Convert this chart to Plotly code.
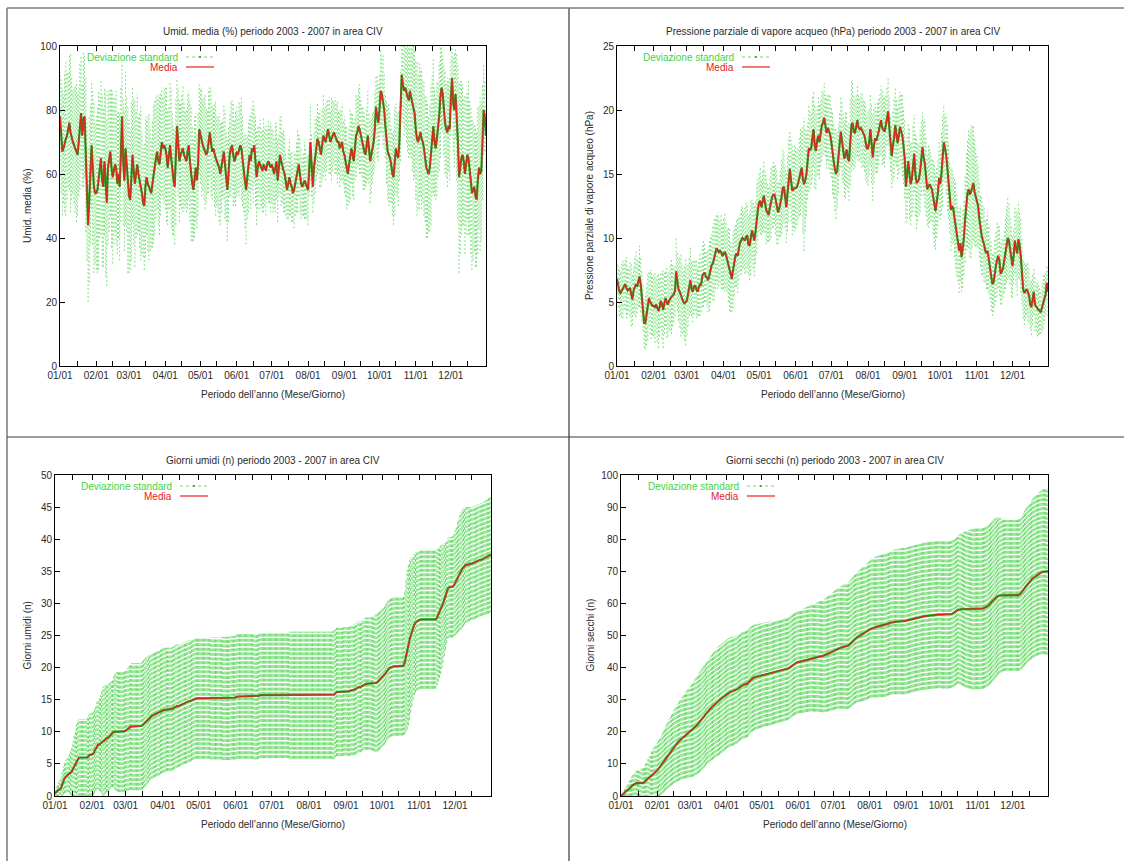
import plotly.graph_objects as go

W, H = 1124, 861

# ---------------- data ----------------
giorni = list(range(1, 366))
mesi_tick = [1, 32, 60, 91, 121, 152, 182, 213, 244, 274, 305, 335]
mesi_label = ["01/01", "02/01", "03/01", "04/01", "05/01", "06/01",
              "07/01", "08/01", "09/01", "10/01", "11/01", "12/01"]
meta_mese = [16, 46, 74, 105, 135, 166, 196, 227, 258, 288, 319, 349]

umid_media = (
    [78, 72, 67, 68, 70, 71, 72, 74, 76, 73, 71, 70, 69, 68, 67, 66, 70, 75, 79, 72, 77, 78, 66, 55, 44, 52, 60, 69, 62, 56, 54]
    + [54, 55, 58, 62, 65, 58, 56, 64, 57, 51, 62, 64, 67, 62, 59, 61, 63, 62, 57, 60, 56, 66, 78, 64, 58, 68, 63, 55]
    + [53, 52, 58, 66, 61, 57, 60, 63, 60, 58, 57, 54, 51, 50, 56, 59, 57, 56, 55, 54, 57, 60, 62, 65, 67, 64, 63, 66, 70, 68, 69]
    + [68, 66, 62, 65, 69, 65, 60, 58, 56, 64, 75, 70, 64, 66, 67, 68, 66, 65, 64, 67, 69, 64, 60, 57, 55, 59, 62, 58, 63, 74]
    + [72, 70, 69, 68, 67, 66, 67, 70, 73, 70, 67, 68, 66, 65, 64, 63, 62, 60, 62, 65, 67, 63, 59, 55, 60, 66, 68, 69, 66, 64, 65]
    + [67, 66, 68, 69, 68, 64, 60, 58, 55, 59, 62, 66, 64, 68, 67, 69, 64, 59, 62, 64, 63, 62, 61, 63, 62, 61, 63, 64, 63, 62]
    + [63, 61, 60, 62, 64, 58, 63, 66, 64, 62, 61, 60, 57, 55, 57, 59, 57, 56, 54, 55, 57, 59, 61, 63, 60, 57, 56, 57, 58, 57, 56]
    + [55, 62, 70, 63, 56, 62, 66, 68, 71, 70, 68, 66, 69, 72, 71, 70, 72, 74, 72, 70, 71, 72, 73, 72, 71, 70, 70, 68, 69, 70, 67]
    + [66, 64, 62, 60, 63, 66, 68, 66, 64, 68, 72, 73, 75, 74, 72, 70, 68, 67, 66, 69, 72, 68, 64, 66, 68, 70, 74, 81, 78, 76]
    + [80, 86, 85, 83, 80, 75, 70, 67, 66, 65, 63, 60, 59, 64, 68, 66, 65, 70, 78, 91, 88, 86, 87, 85, 84, 83, 86, 84, 82, 80, 79]
    + [74, 71, 70, 72, 73, 71, 70, 68, 65, 62, 61, 60, 62, 66, 72, 75, 70, 68, 71, 74, 78, 84, 87, 85, 80, 76, 74, 73, 75, 74]
    + [84, 90, 82, 80, 85, 78, 70, 59, 62, 65, 66, 64, 60, 63, 66, 65, 62, 58, 54, 55, 56, 53, 52, 58, 62, 60, 61, 70, 80, 78, 72]
)
umid_dev = (
    [14, 18, 20, 17, 22, 24, 20, 18, 21, 25, 19, 16, 18, 20, 22, 19, 17, 20, 18, 16, 21, 19, 24, 22, 24, 26, 22, 20, 24, 27, 22]
    + [24, 26, 28, 22, 24, 27, 25, 23, 29, 26, 24, 22, 20, 25, 27, 23, 21, 24, 22, 20, 23, 21, 17, 20, 22, 24, 21, 26]
    + [24, 22, 25, 21, 23, 26, 20, 22, 18, 21, 24, 19, 17, 20, 22, 18, 21, 23, 19, 17, 20, 22, 21, 19, 18, 20, 22, 19, 17, 16, 18]
    + [19, 21, 18, 16, 20, 22, 19, 17, 18, 20, 15, 17, 19, 16, 18, 20, 17, 15, 16, 18, 17, 19, 21, 18, 16, 19, 17, 15, 16, 14]
    + [15, 17, 14, 16, 18, 15, 13, 16, 14, 17, 15, 13, 16, 18, 14, 15, 17, 16, 14, 12, 15, 17, 14, 16, 15, 13, 15, 14, 16, 13, 15]
    + [14, 12, 15, 13, 16, 14, 12, 15, 17, 13, 14, 12, 15, 13, 16, 12, 14, 15, 13, 11, 14, 12, 13, 15, 12, 14, 11, 13, 12, 14]
    + [12, 13, 11, 14, 12, 13, 10, 12, 14, 11, 13, 12, 10, 9, 11, 12, 10, 11, 9, 12, 10, 11, 13, 10, 12, 11, 9, 10, 12, 11, 10]
    + [11, 9, 12, 10, 8, 11, 12, 10, 11, 9, 12, 10, 11, 13, 10, 12, 11, 9, 12, 10, 13, 11, 10, 12, 11, 13, 10, 12, 11, 12, 10]
    + [12, 11, 13, 10, 12, 14, 11, 13, 12, 10, 13, 11, 12, 14, 12, 11, 13, 12, 10, 12, 14, 11, 13, 12, 11, 10, 12, 10, 13, 12]
    + [11, 13, 12, 14, 12, 10, 13, 15, 16, 14, 12, 13, 15, 17, 14, 13, 15, 12, 14, 10, 12, 14, 13, 15, 17, 18, 20, 19, 21, 22, 20]
    + [22, 24, 21, 23, 20, 22, 19, 21, 20, 22, 21, 18, 20, 22, 19, 21, 17, 16, 18, 15, 17, 19, 13, 12, 14, 16, 15, 17, 14, 16]
    + [12, 10, 15, 18, 14, 20, 24, 30, 27, 24, 22, 20, 25, 22, 20, 24, 21, 23, 24, 22, 20, 22, 21, 23, 19, 24, 22, 18, 14, 11, 10]
)

press_media = (
    [6.8, 6.2, 5.8, 5.7, 5.9, 6.0, 6.2, 6.4, 6.1, 5.9, 6.0, 6.1, 5.6, 5.2, 5.9, 6.2, 6.4, 6.2, 6.5, 7.0, 6.4, 5.5, 4.5, 3.3, 3.4, 4.0, 4.6, 5.3, 5.0, 4.8, 4.7]
    + [4.7, 4.6, 4.8, 4.5, 4.3, 4.6, 5.1, 4.8, 4.4, 4.9, 5.3, 5.0, 4.8, 5.1, 5.3, 5.4, 5.5, 5.6, 5.9, 7.4, 6.6, 6.0, 5.8, 5.5, 5.2, 5.0, 4.9, 5.0]
    + [5.1, 5.6, 6.2, 6.7, 6.0, 5.8, 6.2, 6.3, 6.0, 5.8, 6.1, 6.4, 6.3, 7.0, 7.2, 7.3, 7.0, 6.9, 6.7, 7.1, 7.5, 7.9, 8.0, 8.3, 8.8, 9.2, 9.0, 8.9, 9.0, 8.9, 8.6]
    + [8.8, 8.9, 8.7, 8.3, 7.9, 7.5, 7.0, 6.8, 7.5, 8.2, 8.6, 8.8, 8.6, 9.2, 9.7, 9.8, 10.0, 9.9, 9.8, 10.1, 10.2, 9.5, 9.4, 10.0, 10.6, 10.2, 9.8, 10.5, 11.5, 12.2]
    + [12.8, 12.9, 12.4, 12.9, 13.3, 12.8, 12.2, 12.0, 11.8, 12.3, 12.8, 13.2, 13.4, 13.4, 13.0, 12.4, 12.0, 12.3, 12.7, 13.2, 13.9, 14.0, 13.2, 12.4, 13.5, 14.6, 15.4, 14.5, 13.7, 13.8, 13.9]
    + [13.9, 14.0, 14.3, 14.8, 15.2, 15.5, 14.6, 14.2, 14.5, 15.0, 16.0, 17.0, 16.9, 17.0, 17.8, 18.5, 17.2, 16.8, 17.6, 18.0, 17.5, 18.2, 18.8, 19.0, 19.4, 18.8, 18.2, 18.6, 18.3, 18.1]
    + [17.5, 16.6, 16.0, 15.4, 15.0, 15.3, 16.2, 17.4, 18.3, 17.6, 17.0, 16.2, 16.5, 16.9, 16.2, 16.0, 17.5, 18.8, 19.0, 18.3, 18.2, 18.8, 19.2, 18.6, 18.5, 18.6, 18.4, 18.2, 18.0, 17.5, 17.0]
    + [17.0, 17.5, 18.5, 17.4, 16.3, 17.2, 17.8, 17.6, 17.9, 18.3, 18.8, 19.2, 18.6, 18.4, 18.3, 18.8, 19.5, 19.9, 18.6, 17.4, 16.4, 17.2, 17.8, 18.8, 18.2, 17.4, 18.0, 18.7, 18.3, 18.0, 17.2]
    + [16.2, 14.0, 14.8, 16.0, 15.0, 14.2, 14.6, 15.4, 16.6, 15.0, 14.3, 14.4, 14.6, 15.2, 16.2, 17.1, 16.3, 15.8, 14.8, 13.8, 14.0, 14.2, 14.0, 13.8, 13.2, 12.6, 12.1, 12.8, 13.5, 14.7]
    + [14.2, 15.0, 16.0, 17.5, 17.0, 16.5, 15.5, 14.5, 13.2, 12.2, 12.5, 12.3, 11.6, 11.0, 10.2, 9.5, 9.0, 9.6, 8.5, 9.2, 10.0, 11.5, 12.8, 13.5, 13.8, 13.4, 13.6, 14.0, 14.3, 13.6, 13.2]
    + [13.0, 12.5, 11.5, 10.6, 10.2, 9.8, 9.5, 9.0, 8.8, 9.0, 8.3, 7.6, 7.0, 6.4, 6.5, 7.3, 7.8, 8.3, 8.6, 8.2, 7.2, 7.4, 7.6, 8.2, 8.8, 9.5, 10.0, 9.8, 9.0, 8.2]
    + [7.8, 8.6, 9.8, 9.2, 8.8, 9.9, 9.5, 8.6, 7.4, 6.0, 5.7, 5.9, 6.0, 5.8, 5.5, 4.8, 4.6, 5.2, 5.8, 4.8, 4.6, 4.5, 4.4, 4.3, 4.2, 4.6, 5.0, 5.3, 5.6, 6.5, 5.8]
)
press_dev = (
    [1.2, 1.6, 1.9, 1.7, 2.1, 2.3, 1.8, 2.0, 2.4, 1.9, 1.7, 2.2, 2.5, 2.0, 1.8, 2.3, 2.6, 2.1, 1.9, 2.4, 2.2, 2.0, 1.8, 1.9, 2.1, 2.4, 2.6, 2.2, 2.5, 2.7, 2.3]
    + [2.4, 2.8, 2.2, 2.6, 2.9, 2.3, 2.1, 2.7, 3.0, 2.4, 2.2, 2.8, 2.5, 2.3, 2.6, 2.9, 2.4, 2.2, 2.0, 2.6, 2.3, 2.5, 2.8, 3.2, 2.7, 2.4, 2.9, 3.4]
    + [2.7, 2.5, 2.3, 2.6, 2.1, 2.4, 2.2, 2.0, 2.3, 1.9, 2.2, 2.5, 2.1, 2.4, 2.6, 2.3, 2.0, 2.2, 2.5, 2.8, 2.6, 2.4, 2.9, 3.2, 2.8, 2.6, 3.0, 2.7, 2.5, 2.9, 2.6]
    + [2.8, 3.1, 2.7, 2.5, 2.9, 3.2, 2.8, 2.6, 3.0, 2.7, 2.4, 2.6, 2.9, 2.5, 2.3, 2.7, 2.4, 2.2, 2.6, 2.8, 2.5, 2.3, 2.7, 2.9, 2.4, 2.6, 2.8, 2.5, 2.7, 2.4]
    + [2.3, 2.6, 2.2, 2.5, 2.8, 2.4, 2.7, 2.3, 2.1, 2.5, 2.8, 2.4, 2.6, 2.3, 2.7, 2.9, 2.5, 2.2, 2.6, 2.9, 3.1, 2.7, 2.4, 2.8, 3.0, 3.3, 2.9, 3.2, 3.5, 3.0, 3.4]
    + [3.2, 3.0, 2.8, 3.1, 3.4, 2.9, 4.2, 5.2, 4.0, 3.3, 3.0, 3.4, 3.1, 2.8, 3.2, 2.9, 3.3, 3.0, 2.7, 3.1, 2.9, 2.6, 2.8, 2.5, 2.7, 2.4, 2.8, 2.6, 2.9, 3.1]
    + [2.8, 3.2, 2.9, 3.3, 3.5, 3.0, 2.7, 2.5, 2.8, 3.1, 2.7, 3.0, 3.4, 2.9, 2.6, 3.1, 3.4, 3.6, 3.3, 3.0, 2.7, 2.5, 2.8, 2.6, 2.4, 2.7, 2.9, 2.6, 2.8, 3.0, 2.7]
    + [2.9, 2.6, 2.8, 3.1, 3.4, 2.9, 2.7, 2.5, 2.8, 2.6, 2.4, 2.7, 2.9, 2.6, 2.8, 2.5, 2.3, 2.6, 2.4, 2.2, 2.5, 2.8, 3.1, 2.9, 2.6, 2.8, 3.0, 2.7, 2.9, 3.2, 3.0]
    + [3.1, 2.8, 3.3, 2.9, 3.5, 3.2, 2.9, 3.4, 3.0, 3.3, 3.6, 3.1, 2.8, 3.2, 2.9, 2.7, 3.0, 3.4, 3.1, 2.8, 3.2, 3.0, 2.7, 2.5, 2.9, 3.3, 3.0, 2.8, 2.6, 3.0]
    + [2.8, 3.2, 3.5, 3.0, 2.7, 3.1, 3.4, 3.0, 2.8, 3.2, 3.0, 2.7, 3.1, 3.4, 3.2, 2.9, 3.3, 3.0, 2.7, 3.1, 2.9, 3.4, 3.8, 4.2, 4.6, 4.9, 5.2, 4.8, 4.5, 4.2, 3.9]
    + [3.6, 3.3, 3.0, 2.8, 3.1, 2.7, 2.9, 2.5, 2.8, 3.0, 2.6, 2.4, 2.7, 2.5, 2.3, 2.6, 2.8, 2.9, 2.5, 2.7, 2.4, 2.6, 2.3, 2.5, 2.8, 3.0, 3.3, 2.9, 2.6, 2.8]
    + [2.5, 2.2, 2.6, 2.9, 3.3, 3.0, 2.7, 2.9, 2.6, 2.3, 2.5, 2.2, 2.0, 2.3, 2.1, 1.9, 2.2, 2.0, 1.8, 2.1, 1.9, 2.2, 2.0, 1.8, 1.7, 1.9, 2.1, 1.8, 1.6, 1.4, 1.9]
)

umidi_media = (
    [0.4, 0.6, 0.8, 1.0, 1.0, 1.2, 1.8, 2.4, 2.8, 3.0, 3.2, 3.4, 3.5, 3.6, 3.8, 4.2, 4.6, 5.0, 5.4, 5.8, 6.0, 6.0, 6.0, 6.0, 6.0, 6.0, 6.0, 6.0, 6.2, 6.4, 6.4]
    + [6.5, 6.6, 7.0, 7.4, 7.8, 8.0, 8.0, 8.2, 8.4, 8.5, 8.6, 8.8, 9.0, 9.0, 9.2, 9.4, 9.6, 9.8, 10.0, 10.0, 10.0, 10.0, 10.0, 10.0, 10.0, 10.0, 10.0, 10.1]
    + [10.2, 10.3, 10.4, 10.6, 10.8, 10.8, 10.8, 10.8, 10.8, 10.8, 10.8, 10.8, 10.8, 10.9, 11.0, 11.2, 11.4, 11.6, 11.8, 12.0, 12.2, 12.4, 12.5, 12.6, 12.7, 12.8, 12.9, 13.0, 13.0, 13.1, 13.2]
    + [13.3, 13.4, 13.4, 13.5, 13.5, 13.5, 13.5, 13.5, 13.6, 13.7, 13.8, 14.0, 14.0, 14.0, 14.1, 14.2, 14.3, 14.4, 14.5, 14.5, 14.6, 14.7, 14.8, 14.8, 14.9, 15.0, 15.1, 15.2, 15.2, 15.2]
    + [15.2, 15.2, 15.2, 15.2, 15.2, 15.2, 15.2, 15.2, 15.2, 15.2, 15.2, 15.2, 15.2, 15.2, 15.2, 15.2, 15.2, 15.2, 15.2, 15.2, 15.2, 15.2, 15.2, 15.2, 15.2, 15.2, 15.2, 15.3, 15.3, 15.3, 15.3]
    + [15.4, 15.5, 15.5, 15.5, 15.5, 15.5, 15.5, 15.5, 15.5, 15.5, 15.5, 15.5, 15.5, 15.5, 15.5, 15.5, 15.5, 15.5, 15.5, 15.6, 15.7, 15.7, 15.7, 15.7, 15.7, 15.7, 15.7, 15.7, 15.7, 15.7]
    + [15.7, 15.7, 15.7, 15.7, 15.7, 15.7, 15.7, 15.7, 15.7, 15.7, 15.7, 15.7, 15.7, 15.7, 15.7, 15.7, 15.7, 15.7, 15.7, 15.7, 15.7, 15.7, 15.7, 15.7, 15.7, 15.7, 15.7, 15.7, 15.7, 15.7, 15.7]
    + [15.7, 15.7, 15.7, 15.7, 15.7, 15.7, 15.7, 15.7, 15.7, 15.7, 15.7, 15.7, 15.7, 15.7, 15.7, 15.7, 15.7, 15.7, 15.7, 15.7, 15.7, 15.8, 16.0, 16.2, 16.2, 16.2, 16.2, 16.2, 16.2, 16.3, 16.3]
    + [16.3, 16.3, 16.3, 16.4, 16.4, 16.5, 16.5, 16.6, 16.7, 16.8, 17.0, 17.0, 17.0, 17.1, 17.3, 17.4, 17.5, 17.5, 17.5, 17.5, 17.5, 17.5, 17.5, 17.5, 17.5, 17.6, 17.7, 17.9, 18.0, 18.2]
    + [18.4, 18.6, 18.8, 19.1, 19.4, 19.7, 19.9, 20.0, 20.1, 20.1, 20.2, 20.2, 20.2, 20.2, 20.2, 20.2, 20.2, 20.2, 20.3, 20.8, 21.8, 22.8, 23.6, 24.3, 25.0, 25.6, 26.2, 26.7, 27.0, 27.2, 27.3]
    + [27.4, 27.5, 27.5, 27.5, 27.5, 27.5, 27.5, 27.5, 27.5, 27.5, 27.5, 27.5, 27.5, 27.5, 27.5, 27.8, 28.2, 28.6, 29.0, 29.5, 30.0, 30.6, 31.2, 31.8, 32.3, 32.5, 32.5, 32.5, 32.6, 32.8]
    + [33.2, 33.6, 34.0, 34.4, 34.8, 35.1, 35.4, 35.6, 35.8, 36.0, 36.0, 36.1, 36.1, 36.2, 36.2, 36.3, 36.3, 36.4, 36.5, 36.6, 36.7, 36.8, 36.8, 36.9, 37.0, 37.1, 37.2, 37.3, 37.4, 37.5, 37.6]
)
umidi_dev = (
    [0.5, 0.8, 1.0, 1.2, 1.5, 1.8, 2.0, 2.2, 2.4, 2.5, 2.6, 2.8, 3.0, 3.4, 3.8, 4.3, 4.8, 5.3, 5.8, 6.0, 6.0, 6.0, 6.0, 6.0, 6.0, 6.0, 6.0, 6.2, 6.4, 6.4, 6.5]
    + [6.5, 6.5, 6.6, 6.6, 6.8, 7.0, 7.2, 7.5, 8.0, 8.5, 8.5, 8.5, 8.4, 8.4, 8.3, 8.3, 8.2, 8.4, 8.6, 9.0, 9.2, 9.3, 9.4, 9.4, 9.4, 9.4, 9.4, 9.4]
    + [9.4, 9.5, 9.6, 9.7, 9.8, 9.9, 9.9, 9.9, 9.9, 9.9, 9.9, 9.9, 9.9, 9.9, 10.0, 10.0, 10.0, 10.0, 9.9, 9.9, 9.8, 9.8, 9.8, 9.8, 9.8, 9.8, 9.8, 9.8, 9.8, 9.7, 9.7]
    + [9.7, 9.7, 9.7, 9.6, 9.6, 9.6, 9.6, 9.6, 9.6, 9.6, 9.6, 9.6, 9.6, 9.5, 9.5, 9.5, 9.5, 9.5, 9.5, 9.5, 9.5, 9.5, 9.5, 9.5, 9.4, 9.4, 9.4, 9.4, 9.4, 9.4]
    + [9.4, 9.4, 9.4, 9.4, 9.4, 9.4, 9.4, 9.4, 9.4, 9.4, 9.5, 9.5, 9.5, 9.5, 9.5, 9.5, 9.5, 9.5, 9.5, 9.5, 9.6, 9.6, 9.6, 9.6, 9.6, 9.6, 9.6, 9.6, 9.6, 9.6, 9.6]
    + [9.7, 9.7, 9.7, 9.7, 9.7, 9.7, 9.7, 9.7, 9.7, 9.7, 9.7, 9.7, 9.7, 9.7, 9.7, 9.8, 9.8, 9.8, 9.8, 9.8, 9.8, 9.8, 9.8, 9.8, 9.8, 9.8, 9.8, 9.8, 9.8, 9.8]
    + [9.8, 9.8, 9.8, 9.8, 9.8, 9.8, 9.8, 9.8, 9.8, 9.8, 9.8, 9.8, 9.8, 9.8, 9.8, 9.9, 9.9, 9.9, 9.9, 9.9, 9.9, 9.9, 9.9, 9.9, 9.9, 9.9, 9.9, 9.9, 9.9, 9.9, 9.9]
    + [9.9, 9.9, 9.9, 9.9, 9.9, 9.9, 9.9, 9.9, 9.9, 9.9, 9.9, 9.9, 9.9, 9.9, 9.9, 9.9, 9.9, 9.9, 9.9, 9.9, 10.0, 10.0, 10.0, 10.0, 10.0, 10.0, 10.0, 10.0, 10.0, 10.0, 10.0]
    + [10.0, 10.0, 10.1, 10.1, 10.1, 10.1, 10.2, 10.2, 10.2, 10.2, 10.2, 10.2, 10.2, 10.2, 10.2, 10.2, 10.3, 10.3, 10.3, 10.3, 10.3, 10.4, 10.4, 10.5, 10.6, 10.7, 10.8, 10.8, 10.8, 10.8]
    + [10.8, 10.8, 10.8, 10.8, 10.8, 10.8, 10.8, 10.8, 10.8, 10.8, 10.8, 10.8, 10.8, 10.8, 10.8, 10.8, 10.8, 10.8, 10.8, 11.2, 11.8, 12.4, 12.6, 12.4, 12.0, 11.6, 11.2, 11.0, 10.9, 10.8, 10.8]
    + [10.8, 10.8, 10.8, 10.8, 10.8, 10.8, 10.8, 10.8, 10.8, 10.8, 10.8, 10.8, 10.8, 10.8, 10.8, 10.6, 10.4, 10.2, 10.0, 9.6, 9.2, 8.8, 8.4, 8.0, 7.8, 7.8, 7.8, 7.8, 7.9, 8.0]
    + [8.2, 8.4, 8.6, 8.8, 9.0, 9.2, 9.2, 9.2, 9.1, 9.0, 9.0, 8.9, 8.9, 8.8, 8.8, 8.8, 8.8, 8.8, 8.8, 8.8, 8.8, 8.8, 8.8, 8.8, 8.8, 8.9, 8.9, 8.9, 9.0, 9.0, 9.0]
)

secchi_media = (
    [0.0, 0.3, 0.6, 1.0, 1.3, 1.6, 2.0, 2.3, 2.6, 3.0, 3.3, 3.6, 3.9, 4.0, 4.0, 4.0, 4.0, 4.0, 4.0, 4.1, 4.4, 4.8, 5.2, 5.5, 5.8, 6.0, 6.4, 6.8, 7.1, 7.4, 7.7]
    + [8.0, 8.5, 9.0, 9.5, 10.0, 10.6, 11.2, 11.8, 12.3, 12.8, 13.3, 13.8, 14.3, 14.8, 15.3, 15.7, 16.1, 16.5, 16.9, 17.3, 17.7, 18.0, 18.3, 18.6, 18.9, 19.2, 19.5, 19.8]
    + [20.0, 20.3, 20.6, 21.0, 21.4, 21.8, 22.2, 22.6, 23.0, 23.4, 23.9, 24.4, 24.9, 25.4, 25.9, 26.3, 26.7, 27.1, 27.5, 27.8, 28.2, 28.6, 29.0, 29.3, 29.6, 29.9, 30.2, 30.5, 30.8, 31.1, 31.4]
    + [31.7, 32.0, 32.2, 32.4, 32.5, 32.6, 32.7, 32.9, 33.1, 33.3, 33.6, 33.9, 34.2, 34.5, 34.6, 34.7, 34.8, 34.9, 35.0, 35.5, 36.0, 36.4, 36.6, 36.8, 37.0, 37.1, 37.2, 37.3, 37.4, 37.5]
    + [37.6, 37.7, 37.8, 37.9, 38.0, 38.0, 38.1, 38.2, 38.3, 38.4, 38.5, 38.6, 38.7, 38.8, 38.9, 39.0, 39.1, 39.2, 39.3, 39.4, 39.5, 39.5, 39.6, 39.8, 40.1, 40.4, 40.7, 41.0, 41.2, 41.4, 41.6]
    + [41.7, 41.8, 41.9, 42.0, 42.1, 42.2, 42.4, 42.5, 42.6, 42.7, 42.8, 42.9, 43.0, 43.0, 43.1, 43.2, 43.3, 43.4, 43.4, 43.5, 43.5, 43.6, 43.7, 43.8, 44.0, 44.2, 44.4, 44.6, 44.8, 45.0]
    + [45.2, 45.4, 45.6, 45.8, 46.0, 46.1, 46.2, 46.3, 46.4, 46.5, 46.5, 46.6, 46.7, 46.9, 47.2, 47.6, 48.0, 48.4, 48.8, 49.1, 49.4, 49.6, 49.8, 50.0, 50.2, 50.4, 50.6, 50.8, 51.0, 51.3, 51.6]
    + [51.9, 52.1, 52.3, 52.4, 52.5, 52.6, 52.7, 52.8, 52.9, 53.0, 53.0, 53.0, 53.1, 53.2, 53.3, 53.5, 53.7, 53.9, 54.0, 54.1, 54.2, 54.2, 54.3, 54.3, 54.3, 54.4, 54.4, 54.4, 54.5, 54.5, 54.5]
    + [54.6, 54.7, 54.8, 54.9, 55.0, 55.1, 55.2, 55.3, 55.4, 55.5, 55.5, 55.6, 55.7, 55.8, 55.9, 56.0, 56.0, 56.1, 56.1, 56.2, 56.2, 56.3, 56.3, 56.3, 56.4, 56.4, 56.4, 56.5, 56.5, 56.5]
    + [56.5, 56.5, 56.5, 56.5, 56.5, 56.5, 56.5, 56.5, 56.6, 56.7, 56.9, 57.1, 57.4, 57.7, 58.0, 58.1, 58.2, 58.2, 58.2, 58.2, 58.2, 58.2, 58.2, 58.2, 58.2, 58.2, 58.2, 58.2, 58.2, 58.3, 58.3]
    + [58.3, 58.3, 58.3, 58.3, 58.4, 58.5, 58.6, 58.8, 59.0, 59.3, 59.6, 60.0, 60.4, 60.8, 61.2, 61.6, 61.9, 62.2, 62.4, 62.5, 62.5, 62.5, 62.5, 62.5, 62.5, 62.5, 62.5, 62.5, 62.5, 62.5]
    + [62.5, 62.5, 62.5, 62.5, 62.5, 62.6, 62.8, 63.2, 63.7, 64.2, 64.7, 65.2, 65.7, 66.2, 66.6, 67.0, 67.4, 67.8, 68.1, 68.4, 68.7, 69.0, 69.2, 69.4, 69.6, 69.8, 69.9, 70.0, 70.0, 70.0, 70.0]
)
secchi_dev = (
    [0.0, 0.3, 0.8, 1.2, 1.5, 1.8, 2.1, 2.4, 2.7, 3.0, 3.2, 3.4, 3.6, 3.8, 4.0, 4.0, 4.2, 4.4, 4.6, 4.8, 5.0, 5.3, 5.6, 6.0, 6.5, 7.0, 7.5, 7.8, 8.0, 8.2, 8.4]
    + [8.6, 8.8, 9.0, 9.2, 9.4, 9.6, 9.8, 10.0, 10.2, 10.4, 10.6, 10.8, 11.0, 11.2, 11.4, 11.6, 11.8, 12.0, 12.2, 12.4, 12.6, 12.8, 13.0, 13.2, 13.4, 13.6, 13.8, 14.0]
    + [14.2, 14.4, 14.6, 14.8, 15.0, 15.2, 15.4, 15.5, 15.6, 15.7, 15.8, 15.9, 16.0, 16.0, 16.0, 16.1, 16.2, 16.3, 16.4, 16.5, 16.6, 16.7, 16.8, 16.9, 17.0, 17.0, 17.0, 17.0, 17.0, 17.0, 17.0]
    + [17.0, 17.0, 17.0, 17.0, 17.0, 17.0, 16.9, 16.9, 16.9, 16.9, 16.8, 16.8, 16.8, 16.8, 16.7, 16.7, 16.7, 16.6, 16.6, 16.6, 16.5, 16.5, 16.5, 16.5, 16.4, 16.4, 16.4, 16.3, 16.3, 16.3]
    + [16.2, 16.2, 16.2, 16.2, 16.2, 16.2, 16.2, 16.2, 16.2, 16.2, 16.1, 16.1, 16.1, 16.1, 16.1, 16.1, 16.1, 16.1, 16.1, 16.1, 16.0, 16.0, 16.0, 16.0, 16.0, 16.0, 16.0, 16.0, 16.0, 16.0, 16.0]
    + [16.0, 16.0, 16.1, 16.1, 16.2, 16.2, 16.3, 16.3, 16.4, 16.4, 16.5, 16.5, 16.6, 16.7, 16.8, 16.9, 17.0, 17.1, 17.2, 17.3, 17.4, 17.5, 17.6, 17.7, 17.8, 17.9, 18.0, 18.1, 18.2, 18.3]
    + [18.4, 18.5, 18.6, 18.7, 18.8, 18.9, 19.0, 19.1, 19.2, 19.3, 19.4, 19.5, 19.6, 19.7, 19.8, 19.9, 20.0, 20.0, 20.1, 20.2, 20.3, 20.4, 20.5, 20.6, 20.7, 20.8, 20.9, 21.0, 21.1, 21.2, 21.3]
    + [21.4, 21.5, 21.6, 21.7, 21.8, 21.9, 22.0, 22.0, 22.1, 22.1, 22.2, 22.2, 22.2, 22.3, 22.3, 22.3, 22.4, 22.4, 22.4, 22.5, 22.5, 22.5, 22.6, 22.6, 22.6, 22.7, 22.7, 22.7, 22.8, 22.8, 22.8]
    + [22.8, 22.8, 22.8, 22.8, 22.8, 22.8, 22.8, 22.8, 22.8, 22.8, 22.8, 22.8, 22.8, 22.8, 22.8, 22.9, 22.9, 22.9, 22.9, 22.9, 22.9, 22.9, 22.9, 22.9, 22.9, 22.9, 22.9, 22.9, 22.9, 22.9]
    + [23.0, 23.0, 23.0, 23.0, 23.0, 23.0, 23.0, 23.0, 23.0, 23.0, 23.0, 23.0, 23.0, 23.0, 23.0, 23.2, 23.4, 23.6, 23.8, 24.0, 24.2, 24.4, 24.5, 24.6, 24.7, 24.8, 24.9, 25.0, 25.0, 25.0, 25.0]
    + [25.0, 25.0, 25.0, 25.0, 25.0, 25.0, 25.0, 25.0, 25.0, 25.0, 25.0, 25.0, 25.0, 25.0, 25.0, 24.9, 24.8, 24.6, 24.4, 24.2, 24.0, 23.8, 23.6, 23.5, 23.5, 23.5, 23.5, 23.5, 23.5, 23.5]
    + [23.5, 23.5, 23.5, 23.5, 23.5, 23.6, 23.7, 23.8, 23.9, 24.0, 24.1, 24.2, 24.3, 24.4, 24.5, 24.6, 24.7, 24.8, 24.9, 25.0, 25.1, 25.2, 25.3, 25.4, 25.5, 25.6, 25.7, 25.8, 25.9, 26.0, 26.0]
)

titoli = [
    "Umid. media (%) periodo 2003 - 2007 in area CIV",
    "Pressione parziale di vapore acqueo (hPa) periodo 2003 - 2007 in area CIV",
    "Giorni umidi (n) periodo 2003 - 2007 in area CIV",
    "Giorni secchi (n) periodo 2003 - 2007 in area CIV",
]
titoli_y = [
    "Umid. media (%)",
    "Pressione parziale di vapore acqueo (hPa)",
    "Giorni umidi (n)",
    "Giorni secchi (n)",
]
titolo_x = "Periodo dell\u2019anno (Mese/Giorno)"
voce_dev = "Deviazione standard"
voce_media = "Media"

# ---------------- styling / layout ----------------
FONT = "Liberation Sans, Arial, sans-serif"
TXT = "#2a2a2a"
GREEN_TXT = "#3fd43f"
RED = "#e4201c"
BAR_TOP = "#7fe27f"
BAR_BOT = "#6cdb6c"
DARKGREEN = "#2f9a22"

# pixel boxes: (left, right, top, bottom), y-title x, legend text right edge
pannelli = [
    dict(media=umid_media, dev=umid_dev, rng=[0, 100], dt=20, box=(60, 486, 46, 366),
         ytx=27, leg=180, bar=BAR_TOP, dash="2px,2px"),
    dict(media=press_media, dev=press_dev, rng=[0, 25], dt=5, box=(617, 1048, 46, 366),
         ytx=589, leg=736, bar=BAR_TOP, dash="2px,2px"),
    dict(media=umidi_media, dev=umidi_dev, rng=[0, 50], dt=5, box=(55, 491, 475, 796),
         ytx=27, leg=174, bar=BAR_BOT, dash="3px,1.5px"),
    dict(media=secchi_media, dev=secchi_dev, rng=[0, 100], dt=10, box=(621, 1048, 475, 796),
         ytx=590, leg=741, bar=BAR_BOT, dash="3px,1.5px"),
]


def px(x):
    return x / W


def py(y):
    return 1 - y / H


def barre(media, dev):
    """Vertical error-bar segments (mean +/- std) for each day, gaps between days."""
    xs, ys = [], []
    for d, m, s in zip(giorni, media, dev):
        xs += [d, d, None]
        ys += [m - s, m + s, None]
    return xs, ys


fig = go.Figure()
layout = dict(
    width=W, height=H, autosize=False,
    margin=dict(l=0, r=0, t=0, b=0, pad=0, autoexpand=False),
    paper_bgcolor="white", plot_bgcolor="white",
    showlegend=False,
    font=dict(family=FONT, size=10, color=TXT),
)
annotations = []
shapes = []

for k, p in enumerate(pannelli):
    L, R, T, B = p["box"]
    xn = "x" if k == 0 else f"x{k + 1}"
    yl = 2 * k + 1
    yr = 2 * k + 2
    yln = "y" if yl == 1 else f"y{yl}"
    xkey = "xaxis" if k == 0 else f"xaxis{k + 1}"
    ylkey = "yaxis" if yl == 1 else f"yaxis{yl}"
    yrkey = f"yaxis{yr}"

    xs = giorni[: len(p["media"])]

    # dashed standard-deviation bars
    bx, by = barre(p["media"], p["dev"])
    fig.add_trace(go.Scatter(
        x=bx, y=by, mode="lines", xaxis=xn, yaxis=yln, connectgaps=False,
        line=dict(color=p["bar"], width=1, dash=p["dash"]), hoverinfo="skip",
    ))
    # green connecting line of the std series
    fig.add_trace(go.Scatter(
        x=xs, y=p["media"], mode="lines", xaxis=xn, yaxis=yln,
        line=dict(color=DARKGREEN, width=2.2), hoverinfo="skip",
    ))
    # mean line
    fig.add_trace(go.Scatter(
        x=xs, y=p["media"], mode="lines", xaxis=xn, yaxis=yln,
        line=dict(color=RED, width=1.1), hoverinfo="skip",
    ))

    layout[xkey] = dict(
        domain=[px(L), px(R)], anchor=yln, range=[1, 365], automargin=False,
        tickvals=mesi_tick + meta_mese,
        ticktext=mesi_label + [""] * len(meta_mese),
        ticks="inside", ticklen=5, tickcolor="black", tickwidth=1,
        mirror="allticks", showline=True, linecolor="black", linewidth=1,
        showgrid=False, zeroline=False,
        tickfont=dict(family=FONT, size=10, color=TXT),
    )
    layout[ylkey] = dict(
        domain=[py(B), py(T)], anchor=xn, range=p["rng"], dtick=p["dt"], tick0=0,
        automargin=False,
        ticks="inside", ticklen=5, tickcolor="black", tickwidth=1,
        mirror=True, showline=True, linecolor="black", linewidth=1,
        showgrid=False, zeroline=False,
        tickfont=dict(family=FONT, size=10, color=TXT),
    )
    layout[yrkey] = dict(
        overlaying=yln, side="right", anchor=xn, range=p["rng"], dtick=p["dt"], tick0=0,
        automargin=False,
        ticks="inside", ticklen=5, tickcolor="black", tickwidth=1,
        showline=False, showgrid=False, zeroline=False,
        tickfont=dict(family=FONT, size=10, color=TXT),
    )

    cx = (L + R) / 2
    cy = (T + B) / 2
    annotations.append(dict(text=titoli[k], x=px(cx), y=py(T - 15), xref="paper", yref="paper",
                            showarrow=False, xanchor="center", yanchor="middle",
                            font=dict(family=FONT, size=10, color=TXT)))
    annotations.append(dict(text=titolo_x, x=px(cx), y=py(B + 28), xref="paper", yref="paper",
                            showarrow=False, xanchor="center", yanchor="middle",
                            font=dict(family=FONT, size=10, color=TXT)))
    annotations.append(dict(text=titoli_y[k], x=px(p["ytx"]), y=py(cy), xref="paper", yref="paper",
                            showarrow=False, xanchor="center", yanchor="middle", textangle=-90,
                            font=dict(family=FONT, size=10, color=TXT)))
    lx = p["leg"]
    annotations.append(dict(text=voce_dev, x=px(lx), y=py(T + 11), xref="paper", yref="paper",
                            showarrow=False, xanchor="right", yanchor="middle",
                            font=dict(family=FONT, size=10, color=GREEN_TXT)))
    annotations.append(dict(text=voce_media, x=px(lx), y=py(T + 21), xref="paper", yref="paper",
                            showarrow=False, xanchor="right", yanchor="middle",
                            font=dict(family=FONT, size=10, color=RED)))
    shapes.append(dict(type="line", xref="paper", yref="paper",
                       x0=px(lx + 6), x1=px(lx + 34), y0=py(T + 11), y1=py(T + 11),
                       line=dict(color="#6ddc6d", width=1, dash="dot")))
    shapes.append(dict(type="line", xref="paper", yref="paper",
                       x0=px(lx + 19), x1=px(lx + 21), y0=py(T + 11), y1=py(T + 11),
                       line=dict(color="#3fb83f", width=2)))
    shapes.append(dict(type="line", xref="paper", yref="paper",
                       x0=px(lx + 6), x1=px(lx + 34), y0=py(T + 21), y1=py(T + 21),
                       line=dict(color=RED, width=1.2)))

# frame lines between the four panels
frame = [
    (7, 8, 1124, 8, "#3a3a3a", 1.2),
    (7, 8, 7, 861, "#7a7a7a", 1.5),
    (569, 8, 569, 861, "#7a7a7a", 1.8),
    (7, 437, 1124, 437, "#3a3a3a", 1.2),
]
for x0, y0, x1, y1, c, w in frame:
    shapes.append(dict(type="line", xref="paper", yref="paper",
                       x0=px(x0), y0=py(y0), x1=px(x1), y1=py(y1),
                       line=dict(color=c, width=w)))

layout["annotations"] = annotations
layout["shapes"] = shapes
fig.update_layout(**layout)

fig.write_html("out.html", config={"displayModeBar": False},
               post_script="document.body.style.margin='0';document.body.style.overflow='hidden';")
